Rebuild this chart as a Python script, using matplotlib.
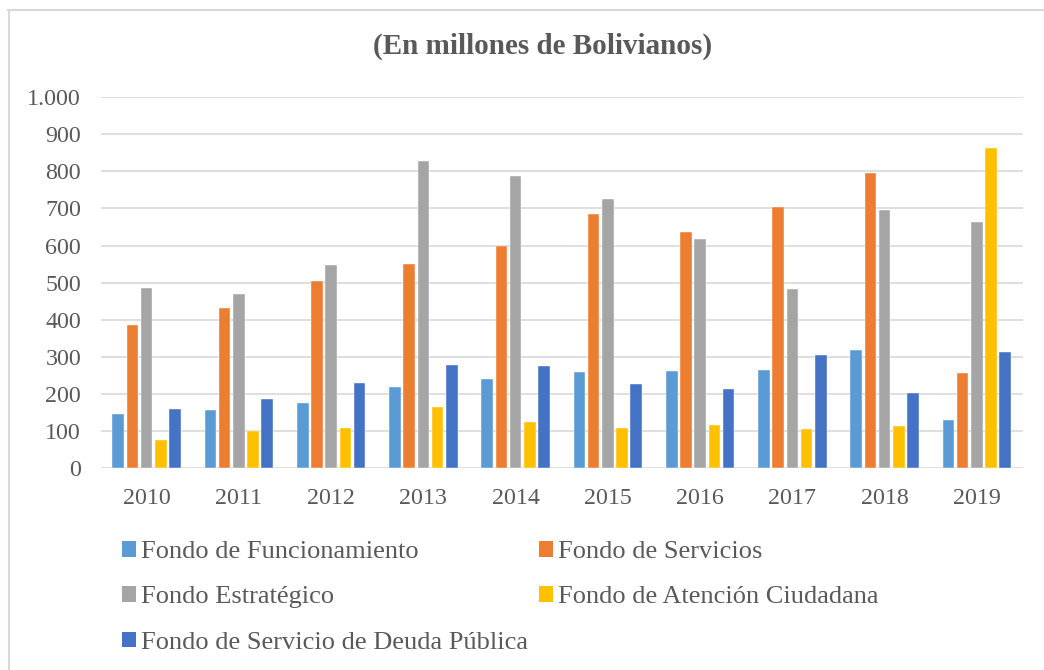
import numpy as np
import matplotlib
matplotlib.use("Agg")
import matplotlib.pyplot as plt
from matplotlib.patches import Patch
from matplotlib.lines import Line2D

# ── Data (millones de Bolivianos) ─────────────────────────────
years = ["2010", "2011", "2012", "2013", "2014",
         "2015", "2016", "2017", "2018", "2019"]

funcionamiento = [146, 157, 175, 219, 240, 260, 261, 266, 318, 130]
servicios      = [385, 431, 505, 550, 599, 686, 636, 703, 794, 258]
estrategico    = [485, 470, 547, 827, 786, 726, 617, 483, 696, 664]
atencion       = [77, 100, 108, 164, 125, 109, 116, 107, 114, 862]
deuda          = [159, 186, 231, 278, 276, 226, 213, 304, 202, 312]

series_names = [
    "Fondo de Funcionamiento",
    "Fondo de Servicios",
    "Fondo Estratégico",
    "Fondo de Atención Ciudadana",
    "Fondo de Servicio de Deuda Pública",
]
series_values = [funcionamiento, servicios, estrategico, atencion, deuda]
colors = ["#5B9BD5", "#ED7D31", "#A5A5A5", "#FFC000", "#4472C4"]

text_color = "#595959"
grid_color = "#D9D9D9"

plt.rcParams["font.family"] = ["Liberation Serif", "DejaVu Serif"]

fig = plt.figure(figsize=(10.44, 6.70), dpi=100)
W, H = 1044, 670
ax = fig.add_axes([100.5 / W, 1 - 468.3 / H, (1023 - 100.5) / W, (468.3 - 97) / H])

x = np.arange(len(years))
step = 0.154
width = 0.126
for i, (vals, col) in enumerate(zip(series_values, colors)):
    ax.bar(x + (i - 2) * step, vals, width=width, color=col,
           edgecolor="white", linewidth=0.3, zorder=3)

ax.set_xlim(-0.5, len(years) - 0.5)
ax.set_ylim(0, 1000)
ax.set_yticks(range(0, 1001, 100))
ax.set_yticklabels([f"{v:,}".replace(",", ".") for v in range(0, 1001, 100)])
ax.set_xticks(x)
ax.set_xticklabels(years)

ax.yaxis.grid(True, color=grid_color, linewidth=1.2, zorder=0)
for s in ax.spines.values():
    s.set_visible(False)
ax.tick_params(axis="both", length=0, labelsize=17.3, colors=text_color)
ax.tick_params(axis="y", pad=14)
ax.tick_params(axis="x", pad=14)

fig.text(543 / W, 1 - 46 / H, "(En millones de Bolivianos)", ha="center",
         va="center", fontsize=21, fontweight="bold", color=text_color)

# legend: Excel fills row-wise, matplotlib column-wise
handles = [Patch(facecolor=c, edgecolor="none") for c in colors]
order = [0, 2, 4, 1, 3]
leg = fig.legend([handles[i] for i in order], [series_names[i] for i in order],
                 ncol=2, loc="upper left", bbox_to_anchor=(122 / W, 1 - 541 / H),
                 frameon=False, fontsize=19, handlelength=0.53, handleheight=0.53,
                 handletextpad=0.19, columnspacing=0.42, labelspacing=0.88,
                 borderaxespad=0, borderpad=0)
for t in leg.get_texts():
    t.set_color(text_color)

# outer frame (top and left edges visible)
fig.add_artist(Line2D([8 / W, 1], [1 - 10 / H, 1 - 10 / H], color=grid_color, linewidth=1.5))
fig.add_artist(Line2D([9 / W, 9 / W], [0, 1 - 10 / H], color=grid_color, linewidth=1.5))

fig.savefig("out.png", dpi=100, facecolor="white")
